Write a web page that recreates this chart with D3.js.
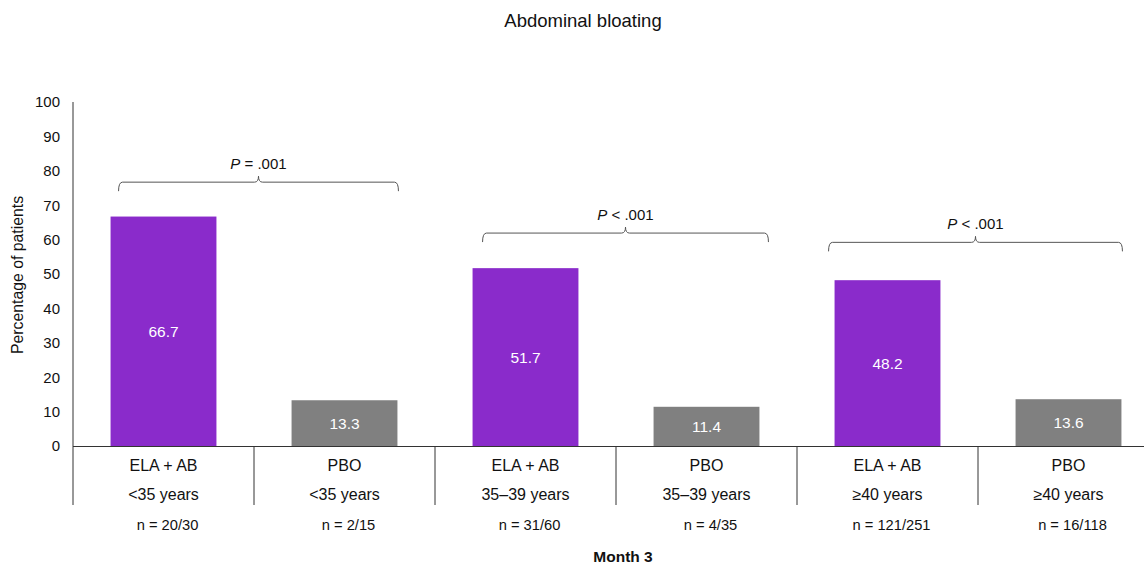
<!DOCTYPE html>
<html><head><meta charset="utf-8">
<script src="https://cdn.jsdelivr.net/npm/d3@7"></script>
<style>
body{margin:0;background:#fff;}
svg{display:block;font-family:"Liberation Sans",Arial,sans-serif;}
</style></head>
<body><svg id="c" width="1144" height="569"></svg>
<script>
const categories = ["c1","c2","c3","c4","c5","c6"];
const treatments = ["ELA + AB","PBO","ELA + AB","PBO","ELA + AB","PBO"];
const ageGroups = ["<35 years","<35 years","35–39 years","35–39 years","≥40 years","≥40 years"];
const nLabels = ["n = 20/30","n = 2/15","n = 31/60","n = 4/35","n = 121/251","n = 16/118"];
const values = [66.7, 13.3, 51.7, 11.4, 48.2, 13.6];
const isActive = [true,false,true,false,true,false];
const yTicks = [0,10,20,30,40,50,60,70,80,90,100];
const bracketFrom = [0,2,4];
const bracketTo = [1,3,5];
const bracketLevel = [76.7, 61.9, 59.2];
const bracketOp = ["=","<","<"];
const bracketP = [".001",".001",".001"];
// layout (pixel insets of bracket ends relative to bars)
const bracketInsetL = [8,10,-6];
const bracketInsetR = [1,9,1];

const svg = d3.select("#c");
const x = d3.scaleBand().domain(categories).range([73,1159]).paddingInner(0.415).paddingOuter(0.2075);
const y = d3.scaleLinear().domain([0,100]).range([446,102]);
const step = x.step();

// title
svg.append("text").attr("x",583).attr("y",27).attr("text-anchor","middle")
  .attr("font-size",18.5).attr("fill","#111").text("Abdominal bloating");

// bars
svg.selectAll("rect.bar").data(values).join("rect").attr("class","bar")
  .attr("x",(d,i)=>x(categories[i])).attr("width",x.bandwidth())
  .attr("y",d=>y(d)).attr("height",d=>y(0)-y(d))
  .attr("fill",(d,i)=>isActive[i]?"#8A2BCB":"#808080");

svg.selectAll("text.val").data(values).join("text").attr("class","val")
  .attr("x",(d,i)=>x(categories[i])+x.bandwidth()/2)
  .attr("y",d=>(y(d)+y(0))/2+5.5).attr("text-anchor","middle")
  .attr("font-size",15.5).attr("fill","#fff").text(d=>d.toFixed(1));

// y axis
const yAxis = d3.axisLeft(y).tickValues(yTicks).tickSize(0).tickPadding(13);
const gy = svg.append("g").attr("transform","translate(73,0)").call(yAxis);
gy.select(".domain").remove();
gy.selectAll("text").attr("font-size",15).attr("fill","#111")
  .attr("font-family","Liberation Sans, Arial, sans-serif");
svg.append("line").attr("x1",73).attr("x2",73).attr("y1",y(100)).attr("y2",505)
  .attr("stroke","#333").attr("stroke-width",1);

// x axis line
svg.append("line").attr("x1",73).attr("x2",1159).attr("y1",y(0)+0.5).attr("y2",y(0)+0.5)
  .attr("stroke","#333").attr("stroke-width",1);

// category dividers
svg.selectAll("line.div").data(categories.slice(1)).join("line").attr("class","div")
  .attr("x1",d=>x(d)-(step-x.bandwidth())/2).attr("x2",d=>x(d)-(step-x.bandwidth())/2)
  .attr("y1",y(0)).attr("y2",505).attr("stroke","#333").attr("stroke-width",1);

// category labels
const cx = (i)=>x(categories[i])+x.bandwidth()/2;
svg.selectAll("text.trt").data(treatments).join("text").attr("class","trt")
  .attr("x",(d,i)=>cx(i)).attr("y",471).attr("text-anchor","middle")
  .attr("font-size",16).attr("fill","#111").text(d=>d);
svg.selectAll("text.age").data(ageGroups).join("text").attr("class","age")
  .attr("x",(d,i)=>cx(i)).attr("y",500).attr("text-anchor","middle")
  .attr("font-size",16).attr("fill","#111").text(d=>d);
svg.selectAll("text.n").data(nLabels).join("text").attr("class","n")
  .attr("x",(d,i)=>cx(i)+4).attr("y",530).attr("text-anchor","middle")
  .attr("font-size",14.7).attr("fill","#111").text(d=>d);

svg.append("text").attr("x",623).attr("y",562).attr("text-anchor","middle")
  .attr("font-size",15.5).attr("font-weight","bold").attr("fill","#111").text("Month 3");

// y axis title
svg.append("text").attr("transform","translate(23,275) rotate(-90)")
  .attr("text-anchor","middle").attr("font-size",15.8).attr("fill","#111")
  .text("Percentage of patients");

// brackets
bracketFrom.forEach((f,i)=>{
  const x1 = x(categories[f]) + bracketInsetL[i];
  const x2 = x(categories[bracketTo[i]]) + x.bandwidth() + bracketInsetR[i];
  const yy = y(bracketLevel[i]);
  const xc = (x1+x2)/2;
  const p = `M${x1},${yy+9} Q${x1},${yy} ${x1+4},${yy} L${xc-4},${yy} Q${xc},${yy} ${xc},${yy-6} Q${xc},${yy} ${xc+4},${yy} L${x2-4},${yy} Q${x2},${yy} ${x2},${yy+9}`;
  svg.append("path").attr("d",p).attr("fill","none").attr("stroke","#555").attr("stroke-width",1);
  const t = svg.append("text").attr("x",xc).attr("y",yy-13).attr("text-anchor","middle")
    .attr("font-size",15).attr("fill","#111");
  t.append("tspan").attr("font-style","italic").text("P");
  t.append("tspan").text(" " + bracketOp[i] + " " + bracketP[i]);
});
</script></body></html>
